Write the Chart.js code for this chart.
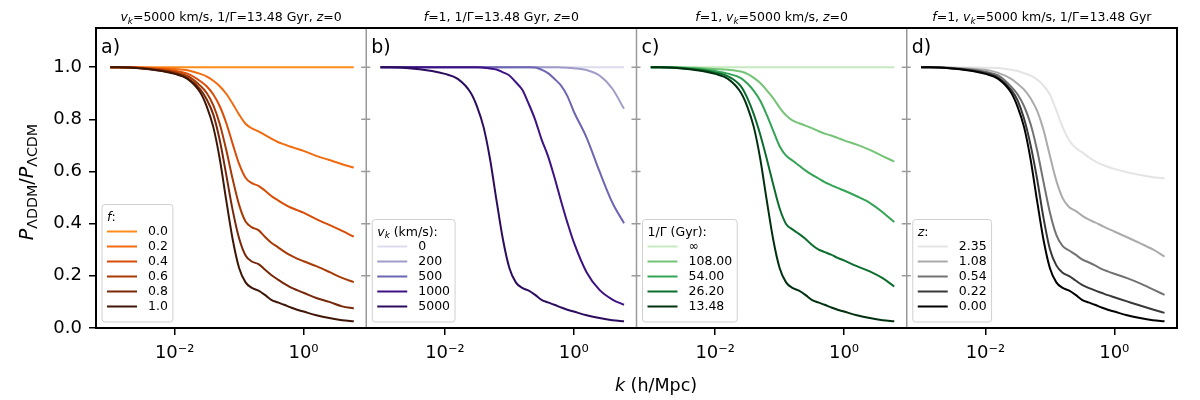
<!DOCTYPE html>
<html lang="en">
<head>
  <meta charset="UTF-8" />
  <title>P_LDDM / P_LCDM</title>
  <script src="https://cdn.jsdelivr.net/npm/chart.js"></script>
  <style>
    html, body { margin: 0; padding: 0; background: #fff; }
    #wrap { position: relative; width: 1200px; height: 400px; }
  </style>
</head>
<body>
  <div id="wrap"><canvas id="chart"></canvas></div>

  <script>
    // shared k grid (h/Mpc)
    const kValues = [0.001, 0.0025, 0.0063, 0.01, 0.0158, 0.0251, 0.0316, 0.0398, 0.0501, 0.0631,
      0.0794, 0.1, 0.126, 0.158, 0.2, 0.251, 0.316, 0.398, 0.501, 0.631, 0.794, 1.0, 1.58, 2.51, 3.98, 6.03];

    // flat reference and the fiducial model (f=1, vk=5000, 1/G=13.48, z=0)
    const flat = [1, 1, 1, 1, 1, 1, 1, 1, 1, 1, 1, 1, 1, 1, 1, 1, 1, 1, 1, 1, 1, 1, 1, 1, 1, 1];
    const fiducial = [1.0, 0.997, 0.985, 0.974, 0.955, 0.902, 0.848, 0.77, 0.648, 0.49, 0.34, 0.23, 0.175,
      0.154, 0.143, 0.127, 0.108, 0.098, 0.089, 0.079, 0.07, 0.063, 0.049, 0.038, 0.03, 0.026];

    // a) varying f
    const f02 = [1.0, 0.999, 0.996, 0.993, 0.988, 0.974, 0.964, 0.948, 0.927, 0.898, 0.86, 0.818, 0.783,
      0.765, 0.754, 0.74, 0.726, 0.713, 0.704, 0.695, 0.687, 0.679, 0.66, 0.644, 0.628, 0.615];
    const f04 = [1.0, 0.999, 0.992, 0.986, 0.975, 0.946, 0.926, 0.895, 0.85, 0.786, 0.706, 0.629, 0.576,
      0.555, 0.545, 0.527, 0.506, 0.49, 0.475, 0.462, 0.452, 0.442, 0.417, 0.395, 0.372, 0.35];
    const f06 = [1.0, 0.998, 0.989, 0.98, 0.966, 0.928, 0.9, 0.853, 0.782, 0.683, 0.571, 0.472, 0.408,
      0.386, 0.375, 0.35, 0.327, 0.31, 0.293, 0.278, 0.266, 0.256, 0.237, 0.215, 0.192, 0.176];
    const f08 = [1.0, 0.998, 0.986, 0.976, 0.958, 0.914, 0.875, 0.818, 0.72, 0.588, 0.452, 0.344, 0.278,
      0.255, 0.245, 0.224, 0.203, 0.186, 0.17, 0.156, 0.145, 0.135, 0.115, 0.1, 0.083, 0.075];

    // b) varying vk
    const vk200 = [1, 1, 1, 1, 1, 1, 1, 1, 1, 1, 1, 1, 1, 1, 1, 1, 1, 1, 1,
      0.999, 0.998, 0.996, 0.989, 0.968, 0.917, 0.84];
    const vk500 = [1, 1, 1, 1, 1, 1, 1, 1, 1, 1, 1, 1, 1, 1, 1,
      0.999, 0.99, 0.977, 0.955, 0.93, 0.89, 0.83, 0.73, 0.6, 0.48, 0.402];
    const vk1000 = [1, 1, 1, 1, 1, 1, 1, 0.998, 0.995, 0.991, 0.98, 0.968, 0.942, 0.914, 0.859, 0.799,
      0.723, 0.659, 0.578, 0.489, 0.405, 0.329, 0.214, 0.146, 0.109, 0.089];

    // c) varying 1/Gamma
    const g108 = [1.0, 1.0, 0.996, 0.993, 0.99, 0.983, 0.974, 0.959, 0.939, 0.911, 0.881, 0.845, 0.815,
      0.796, 0.785, 0.776, 0.766, 0.755, 0.745, 0.738, 0.729, 0.719, 0.703, 0.683, 0.659, 0.638];
    const g54 = [1.0, 0.999, 0.992, 0.985, 0.975, 0.958, 0.937, 0.909, 0.871, 0.817, 0.757, 0.697, 0.661,
      0.642, 0.623, 0.604, 0.588, 0.574, 0.559, 0.548, 0.537, 0.527, 0.505, 0.48, 0.444, 0.406];
    const g26 = [1.0, 0.998, 0.988, 0.979, 0.965, 0.926, 0.881, 0.819, 0.741, 0.649, 0.551, 0.459, 0.399,
      0.378, 0.361, 0.342, 0.319, 0.301, 0.291, 0.281, 0.269, 0.259, 0.237, 0.217, 0.191, 0.159];

    // d) varying z
    const z235 = [1.0, 1.0, 0.999, 0.998, 0.997, 0.99, 0.985, 0.977, 0.968, 0.953, 0.93, 0.895, 0.834,
      0.77, 0.719, 0.691, 0.674, 0.655, 0.64, 0.627, 0.618, 0.61, 0.597, 0.587, 0.578, 0.574];
    const z108 = [1.0, 0.999, 0.994, 0.99, 0.978, 0.955, 0.936, 0.914, 0.881, 0.834, 0.761, 0.661, 0.565,
      0.498, 0.463, 0.449, 0.431, 0.416, 0.405, 0.393, 0.381, 0.37, 0.348, 0.325, 0.301, 0.274];
    const z054 = [1.0, 0.998, 0.99, 0.982, 0.968, 0.925, 0.895, 0.85, 0.783, 0.684, 0.562, 0.444, 0.357,
      0.314, 0.297, 0.281, 0.263, 0.252, 0.24, 0.227, 0.217, 0.208, 0.191, 0.171, 0.148, 0.127];
    const z022 = [1.0, 0.997, 0.987, 0.978, 0.96, 0.913, 0.872, 0.802, 0.702, 0.574, 0.424, 0.303, 0.24,
      0.212, 0.199, 0.182, 0.165, 0.154, 0.144, 0.135, 0.126, 0.118, 0.102, 0.086, 0.071, 0.058];

    const fLabels = ['0.0', '0.2', '0.4', '0.6', '0.8', '1.0'];
    const vkLabels = ['0', '200', '500', '1000', '5000'];
    const gammaLabels = ['∞', '108.00', '54.00', '26.20', '13.48'];
    const zLabels = ['2.35', '1.08', '0.54', '0.22', '0.00'];

    const yTicks = [0, 0.2, 0.4, 0.6, 0.8, 1.0];
    const xTicks = [0.01, 1];
    const xTickLabels = ['10⁻²', '10⁰'];
    const xMin = 6.47e-4, xMax = 9.42;

    const orangeColors = ['#ff8c1a', '#f26b0f', '#d94c06', '#a83a05', '#782708', '#3f1606'];
    const purpleColors = ['#dcdcee', '#a09cca', '#6d66b3', '#3d1284', '#2b0c5e'];
    const greenColors = ['#c7e9c0', '#74c476', '#33a456', '#0b6e2e', '#00300f'];
    const greyColors = ['#e4e4e4', '#ababab', '#727272', '#393939', '#000000'];

    const FONT = '"DejaVu Sans"';
    Chart.defaults.font.family = FONT;
    Chart.defaults.color = '#000';

    const panels = [
      {
        axis: 'xa', letter: 'a)', series: [flat, f02, f04, f06, f08, fiducial], labels: fLabels, colors: orangeColors,
        title: [{ t: 'v', it: 1 }, { t: 'k', it: 1, sub: 1 }, { t: '=5000 km/s, 1/Γ=13.48 Gyr, ' }, { t: 'z', it: 1 }, { t: '=0' }],
        legendTitle: [{ t: 'f', it: 1 }, { t: ':' }]
      },
      {
        axis: 'xb', letter: 'b)', series: [flat, vk200, vk500, vk1000, fiducial], labels: vkLabels, colors: purpleColors,
        title: [{ t: 'f', it: 1 }, { t: '=1, 1/Γ=13.48 Gyr, ' }, { t: 'z', it: 1 }, { t: '=0' }],
        legendTitle: [{ t: 'v', it: 1 }, { t: 'k', it: 1, sub: 1 }, { t: ' (km/s):' }]
      },
      {
        axis: 'xc', letter: 'c)', series: [flat, g108, g54, g26, fiducial], labels: gammaLabels, colors: greenColors,
        title: [{ t: 'f', it: 1 }, { t: '=1, ' }, { t: 'v', it: 1 }, { t: 'k', it: 1, sub: 1 }, { t: '=5000 km/s, ' }, { t: 'z', it: 1 }, { t: '=0' }],
        legendTitle: [{ t: '1/Γ (Gyr):' }]
      },
      {
        axis: 'xd', letter: 'd)', series: [z235, z108, z054, z022, fiducial], labels: zLabels, colors: greyColors,
        title: [{ t: 'f', it: 1 }, { t: '=1, ' }, { t: 'v', it: 1 }, { t: 'k', it: 1, sub: 1 }, { t: '=5000 km/s, 1/Γ=13.48 Gyr' }],
        legendTitle: [{ t: 'z', it: 1 }, { t: ':' }]
      }
    ];

    const datasets = [];
    panels.forEach((p, pi) => {
      p.series.forEach((s, i) => {
        datasets.push({
          label: p.labels[i],
          panel: pi,
          data: kValues.map((k, j) => ({ x: k, y: s[j] })),
          xAxisID: p.axis,
          yAxisID: 'y',
          borderColor: p.colors[i],
          borderWidth: 2,
          pointRadius: 0,
          fill: false,
          cubicInterpolationMode: 'monotone',
          order: 10 - i
        });
      });
    });

    // rich text helpers (italic / subscript pieces)
    function fontFor(s, size, subScale) {
      const sz = s.sub ? size * subScale : size;
      return (s.it ? 'italic ' : '') + sz + 'px ' + FONT;
    }
    function richWidth(ctx, segs, size, subScale = 0.7) {
      let w = 0;
      segs.forEach(s => { ctx.font = fontFor(s, size, subScale); w += ctx.measureText(s.t).width; });
      return w;
    }
    function drawRich(ctx, segs, x, y, size, align, subScale = 0.7) {
      let cx = align === 'center' ? x - richWidth(ctx, segs, size, subScale) / 2 : x;
      ctx.textAlign = 'left';
      ctx.textBaseline = 'alphabetic';
      segs.forEach(s => {
        ctx.font = fontFor(s, size, subScale);
        ctx.fillText(s.t, cx, y + (s.sub ? size * 0.22 : 0));
        cx += ctx.measureText(s.t).width;
      });
    }

    const decorations = {
      id: 'decorations',
      afterDatasetsDraw(chart) {
        const { ctx, chartArea: a } = chart;
        const yScale = chart.scales.y;
        ctx.save();
        ctx.strokeStyle = '#9a9a9a';
        ctx.lineWidth = 1.5;
        ['xb', 'xc', 'xd'].forEach(id => {
          const x = chart.scales[id].left;
          ctx.beginPath();
          ctx.moveTo(x, a.top);
          ctx.lineTo(x, a.bottom);
          yTicks.forEach(v => {
            const y = yScale.getPixelForValue(v);
            ctx.moveTo(x - 5, y);
            ctx.lineTo(x + 4, y);
          });
          ctx.stroke();
        });
        ctx.strokeStyle = '#000';
        ctx.lineWidth = 2;
        ctx.strokeRect(a.left, a.top, a.right - a.left, a.bottom - a.top);
        ctx.restore();
      },
      afterDraw(chart) {
        const { ctx, chartArea: a } = chart;
        ctx.save();
        ctx.fillStyle = '#000';

        panels.forEach((p, pi) => {
          const sc = chart.scales[p.axis];
          // panel title and letter
          drawRich(ctx, p.title, (sc.left + sc.right) / 2, 21, 12.5, 'center');
          ctx.font = '19px ' + FONT;
          ctx.fillStyle = '#000';
          ctx.fillText(p.letter, sc.left + 5, 53);

          // legend box, bottom-left of the panel
          const items = datasets.filter(d => d.panel === pi);
          const size = 12.5;
          const left = sc.left + 6;
          const boxH = 27.5 + 15 * items.length;
          const top = a.bottom - 6 - boxH;
          const lineX = left + 5;
          const labelX = lineX + 41;
          ctx.font = size + 'px ' + FONT;
          const maxLab = Math.max(...items.map(d => ctx.measureText(d.label).width));
          const titleW = richWidth(ctx, p.legendTitle, size);
          const right = Math.max(labelX + maxLab, lineX + titleW) + 5;
          ctx.beginPath();
          ctx.roundRect(left, top, right - left, boxH, 3);
          ctx.fillStyle = 'rgba(255,255,255,0.8)';
          ctx.fill();
          ctx.strokeStyle = '#d0d0d0';
          ctx.lineWidth = 1;
          ctx.stroke();
          ctx.fillStyle = '#000';
          drawRich(ctx, p.legendTitle, lineX, top + 16, size, 'left');
          items.forEach((d, i) => {
            const y = top + 27 + 15 * i;
            ctx.strokeStyle = d.borderColor;
            ctx.lineWidth = 2;
            ctx.beginPath();
            ctx.moveTo(lineX, y);
            ctx.lineTo(lineX + 30, y);
            ctx.stroke();
            ctx.font = size + 'px ' + FONT;
            ctx.fillStyle = '#000';
            ctx.textBaseline = 'middle';
            ctx.fillText(d.label, labelX, y + 0.5);
            ctx.textBaseline = 'alphabetic';
          });
        });

        // x axis label
        drawRich(ctx, [{ t: 'k', it: 1 }, { t: ' (h/Mpc)' }], 656, 391, 17.5, 'center');

        // y axis label, rotated
        ctx.translate(33, 182);
        ctx.rotate(-Math.PI / 2);
        drawRich(ctx, [{ t: 'P', it: 1 }, { t: 'ΛDDM', sub: 1 }, { t: '/' }, { t: 'P', it: 1 }, { t: 'ΛCDM', sub: 1 }], 0, 0, 19, 'center', 0.75);
        ctx.restore();
      }
    };

    function xAxis() {
      return {
        type: 'logarithmic',
        position: 'bottom',
        stack: 'k',
        min: xMin,
        max: xMax,
        afterBuildTicks: s => { s.ticks = xTicks.map(v => ({ value: v })); },
        afterFit: s => { s.height = 72; },
        ticks: {
          autoSkip: false,
          maxRotation: 0,
          padding: 8,
          font: { size: 18 },
          color: '#000',
          callback: (v, i) => xTickLabels[i]
        },
        grid: { drawOnChartArea: false, tickLength: 7, color: '#000', lineWidth: 1.5 },
        border: { display: false }
      };
    }

    new Chart(document.getElementById('chart'), {
      type: 'line',
      data: { datasets },
      options: {
        responsive: true,
        maintainAspectRatio: false,
        animation: false,
        layout: { padding: { top: 28, right: 23, bottom: 0, left: 0 } },
        plugins: { legend: { display: false }, tooltip: { enabled: false } },
        scales: {
          y: {
            min: 0,
            max: 1.15,
            position: 'left',
            afterBuildTicks: s => { s.ticks = yTicks.map(v => ({ value: v })); },
            afterFit: s => { s.width = 96; },
            ticks: { padding: 7, font: { size: 18 }, color: '#000', callback: v => v.toFixed(1) },
            grid: { drawOnChartArea: false, tickLength: 7, color: '#000', lineWidth: 1.5 },
            border: { display: false }
          },
          xa: xAxis(),
          xb: xAxis(),
          xc: xAxis(),
          xd: xAxis()
        }
      },
      plugins: [decorations]
    });
  </script>
</body>
</html>
